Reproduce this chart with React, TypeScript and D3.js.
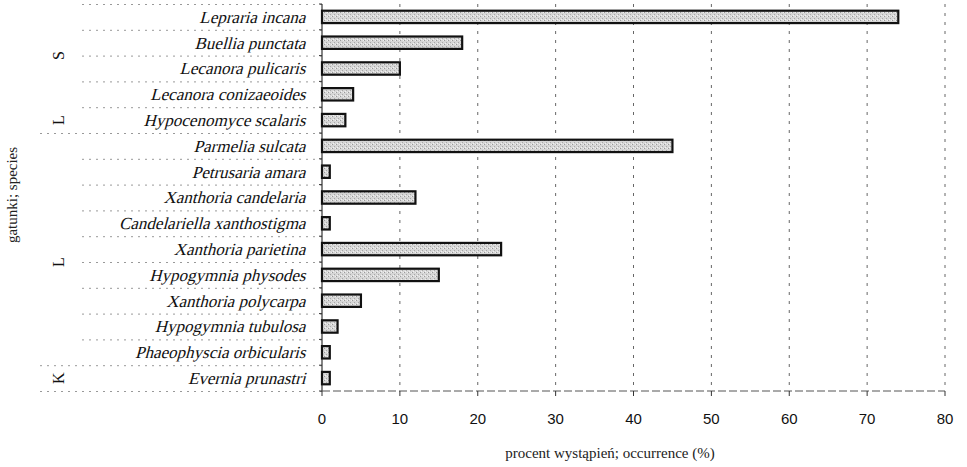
import React from 'react';
import * as d3 from 'd3';

const width = 967;
const height = 467;
const margin = { top: 4, right: 22, bottom: 76, left: 322 };

const species = [
  'Lepraria incana',
  'Buellia punctata',
  'Lecanora pulicaris',
  'Lecanora conizaeoides',
  'Hypocenomyce scalaris',
  'Parmelia sulcata',
  'Petrusaria amara',
  'Xanthoria candelaria',
  'Candelariella xanthostigma',
  'Xanthoria parietina',
  'Hypogymnia physodes',
  'Xanthoria polycarpa',
  'Hypogymnia tubulosa',
  'Phaeophyscia orbicularis',
  'Evernia prunastri',
];
const occurrence = [74, 18, 10, 4, 3, 45, 1, 12, 1, 23, 15, 5, 2, 1, 1];
const xTicks = [0, 10, 20, 30, 40, 50, 60, 70, 80];

// group letters on the left, with the row they sit next to (fractional = between rows)
const groupLabels = ['S', 'L', 'L', 'K'];
const groupRows = [1.5, 4, 9.5, 14];
// separators that reach further left
const longSeparators = [5, 14, 15];

const serif = "'Liberation Serif', 'Times New Roman', serif";
const sans = "'Liberation Sans', Arial, sans-serif";

const data = species.map((s, i) => ({ name: s, value: occurrence[i] }));

export default function App() {
  const x = d3.scaleLinear().domain([0, 80]).range([margin.left, width - margin.right]);
  const y = d3
    .scaleBand<string>()
    .domain(species)
    .range([margin.top, height - margin.bottom])
    .paddingInner(0.52)
    .paddingOuter(0.26);
  const step = y.step();
  const rowTop = (i: number) => margin.top + i * ((height - margin.bottom - margin.top) / species.length);
  const axisY = height - margin.bottom;

  return (
    <svg
      width={width}
      height={height}
      style={{ position: 'absolute', left: 0, top: 0, background: '#fff' }}
    >
      <defs>
        <pattern id="speckle" width="4" height="4" patternUnits="userSpaceOnUse">
          <rect width="4" height="4" fill="#d6d6d6" />
          <rect x="0" y="0" width="1" height="1" fill="#9a9a9a" />
          <rect x="2" y="2" width="1" height="1" fill="#a8a8a8" />
          <rect x="3" y="0" width="1" height="1" fill="#efefef" />
          <rect x="1" y="3" width="1" height="1" fill="#f2f2f2" />
        </pattern>
      </defs>

      {/* horizontal row separators on the left */}
      {d3.range(species.length + 1).map(i => (
        <line
          key={'sep' + i}
          x1={longSeparators.includes(i) ? 40 : 82}
          x2={margin.left}
          y1={rowTop(i) + 0.5}
          y2={rowTop(i) + 0.5}
          stroke="#999"
          strokeWidth={1}
          strokeDasharray="2,5"
        />
      ))}

      {/* vertical gridlines */}
      {xTicks.slice(1).map(t => (
        <line
          key={'g' + t}
          x1={x(t)}
          x2={x(t)}
          y1={margin.top}
          y2={axisY}
          stroke="#666"
          strokeWidth={1}
          strokeDasharray="3,6"
        />
      ))}

      {/* y axis */}
      <line x1={margin.left} x2={margin.left} y1={margin.top} y2={axisY} stroke="#333" strokeWidth={1.2} />
      {d3.range(species.length + 1).map(i => (
        <line key={'yt' + i} x1={margin.left - 3} x2={margin.left} y1={rowTop(i)} y2={rowTop(i)} stroke="#333" />
      ))}

      {/* x axis */}
      <line x1={margin.left} x2={x(80)} y1={axisY} y2={axisY} stroke="#555" strokeWidth={1} strokeDasharray="8,3" />
      {xTicks.map(t => (
        <line key={'xt' + t} x1={x(t)} x2={x(t)} y1={axisY} y2={axisY + 5} stroke="#333" />
      ))}
      {xTicks.map(t => (
        <text
          key={'xl' + t}
          x={x(t)}
          y={axisY + 33}
          textAnchor="middle"
          fontFamily={sans}
          fontSize={15}
          fill="#111"
        >
          {t}
        </text>
      ))}

      {/* bars */}
      {data.map(d => (
        <rect
          key={d.name}
          x={x(0)}
          y={y(d.name)}
          width={x(d.value) - x(0)}
          height={y.bandwidth()}
          fill="url(#speckle)"
          stroke="#111"
          strokeWidth={2.2}
        />
      ))}

      {/* species labels (slanted serif) */}
      {data.map(d => (
        <text
          key={'l' + d.name}
          transform={`translate(307,${(y(d.name) || 0) + y.bandwidth() / 2}) skewX(-15)`}
          dy="0.35em"
          textAnchor="end"
          fontFamily={serif}
          fontSize={17}
          fill="#111"
        >
          {d.name}
        </text>
      ))}

      {/* group letters */}
      {groupLabels.map((g, i) => {
        const cy = margin.top + (groupRows[i] + 0.5) * step;
        return (
          <text
            key={'grp' + i}
            transform={`translate(58,${cy}) rotate(-90)`}
            textAnchor="middle"
            dy="0.35em"
            fontFamily={serif}
            fontSize={16}
            fill="#111"
          >
            {g}
          </text>
        );
      })}

      {/* axis titles */}
      <text
        transform={`translate(17,${195}) rotate(-90)`}
        textAnchor="middle"
        fontFamily={serif}
        fontSize={15}
        fill="#222"
      >
        gatunki; species
      </text>
      <text
        x={610}
        y={458}
        textAnchor="middle"
        fontFamily={serif}
        fontSize={15}
        fill="#222"
      >
        procent wystąpień; occurrence (%)
      </text>
    </svg>
  );
}
